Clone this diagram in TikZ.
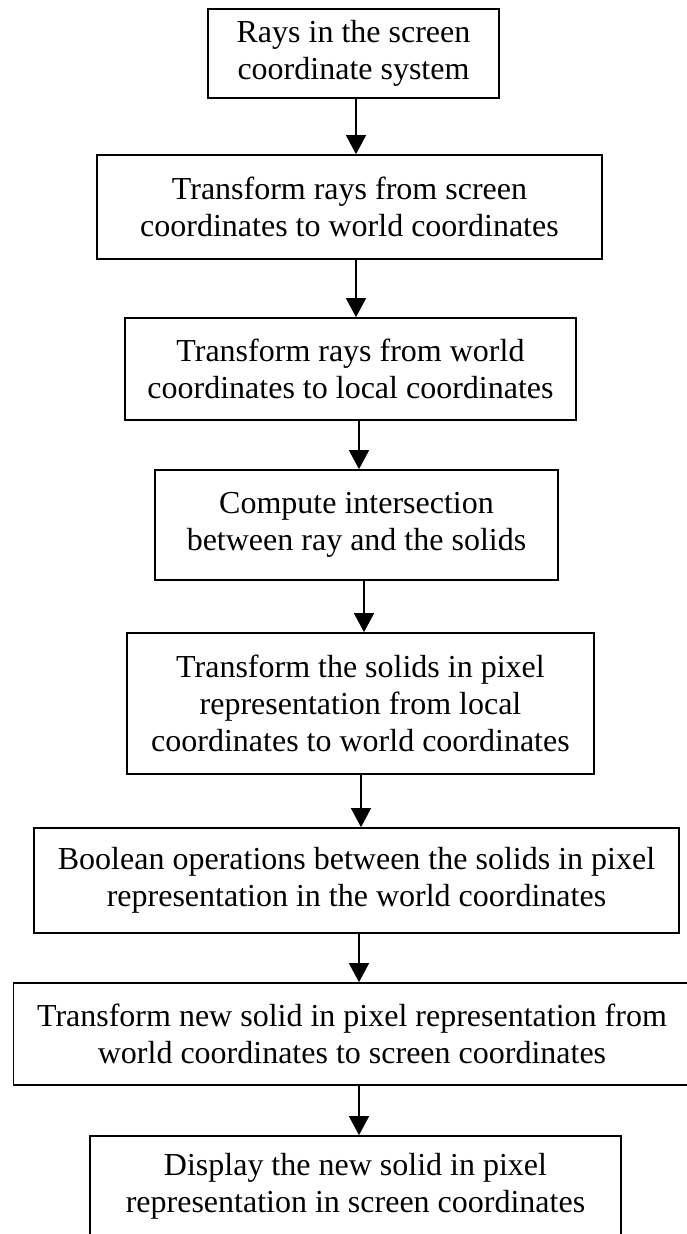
\documentclass[tikz,border=0pt]{standalone}
\usepackage{fontspec}
\setmainfont{Liberation Serif}
\usetikzlibrary{arrows.meta}

\begin{document}
\begin{tikzpicture}[x=1pt,y=-1pt,
  stepbox/.style={draw, line width=1.7pt, rectangle, inner sep=0pt,
    align=center, font=\fontsize{32}{37}\selectfont},
  flow/.style={line width=1.5pt, -{Triangle[length=19pt,width=20pt]}}]
  \useasboundingbox (0,0) rectangle (687,1234);

  % process boxes, top to bottom
  \node[stepbox, minimum width=291pt, minimum height=89pt] (b1) at (353.5,53.5)
    {Rays in the screen\\coordinate system};
  \node[stepbox, minimum width=505pt, minimum height=104pt] (b2) at (349.5,207)
    {Transform rays from screen\\coordinates to world coordinates};
  \node[stepbox, minimum width=451pt, minimum height=102pt] (b3) at (350.5,369)
    {Transform rays from world\\coordinates to local coordinates};
  \node[stepbox, minimum width=403pt, minimum height=110pt] (b4) at (356.5,525)
    {Compute intersection\\between ray and the solids};
  \node[stepbox, minimum width=467pt, minimum height=141pt] (b5) at (360.5,703.5)
    {Transform the solids in pixel\\representation from local\\coordinates to world coordinates};
  \node[stepbox, minimum width=645pt, minimum height=105pt] (b6) at (356.5,880.5)
    {Boolean operations between the solids in pixel\\representation in the world coordinates};
  \node[stepbox, minimum width=677pt, minimum height=102pt] (b7) at (352,1034)
    {Transform new solid in pixel representation from\\world coordinates to screen coordinates};
  \node[stepbox, minimum width=531pt, minimum height=100pt] (b8) at (355.5,1186)
    {Display the new solid in pixel\\representation in screen coordinates};

  % arrow columns
  \coordinate (c1) at (356,0);
  \coordinate (c2) at (356,0);
  \coordinate (c3) at (359,0);
  \coordinate (c4) at (364,0);
  \coordinate (c5) at (361,0);
  \coordinate (c6) at (359,0);
  \coordinate (c7) at (359,0);

  % connectors
  \draw[flow] (b1.south -| c1) -- (b2.north -| c1);
  \draw[flow] (b2.south -| c2) -- (b3.north -| c2);
  \draw[flow] (b3.south -| c3) -- (b4.north -| c3);
  \draw[flow] (b4.south -| c4) -- (b5.north -| c4);
  \draw[flow] (b5.south -| c5) -- (b6.north -| c5);
  \draw[flow] (b6.south -| c6) -- (b7.north -| c6);
  \draw[flow] (b7.south -| c7) -- (b8.north -| c7);
\end{tikzpicture}
\end{document}
